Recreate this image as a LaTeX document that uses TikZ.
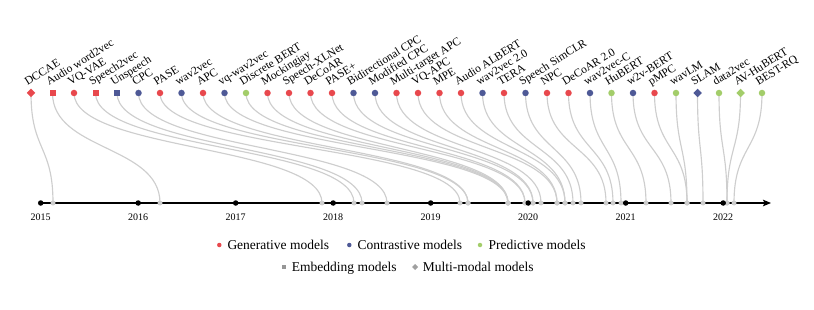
\documentclass[tikz,border=0pt]{standalone}
\usepackage{fontspec}
\setmainfont{Liberation Serif}
\usetikzlibrary{shapes.geometric,arrows.meta,backgrounds,calc}
\definecolor{cred}{RGB}{232,72,77}
\definecolor{cblue}{RGB}{78,89,150}
\definecolor{cgreen}{RGB}{163,205,106}
\definecolor{ccurve}{RGB}{206,206,206}
\definecolor{cgray}{RGB}{150,150,150}
\definecolor{cgrayd}{RGB}{160,160,160}
\begin{document}
\begin{tikzpicture}[x=1pt,y=-1pt,
  mk/.style={inner sep=0pt,outer sep=0pt,draw=none},
  lbl/.style={anchor=base west,rotate=32,inner sep=0pt,font=\fontsize{11.5}{11.5}\selectfont},
  enddot/.style={circle,inner sep=0pt,minimum size=5pt,fill=ccurve},
  yeardot/.style={circle,inner sep=0pt,minimum size=5.5pt,fill=black},
  yearlbl/.style={font=\fontsize{10}{10}\selectfont,inner sep=0pt},
  conn/.style={draw=ccurve,line width=1.15pt},
  axisline/.style={draw=black,line width=1.3pt,-{Stealth[length=8pt,width=6.5pt,inset=1.5pt]}},
  leg/.style={anchor=base west,inner sep=0pt,font=\fontsize{13.5}{13.5}\selectfont}
]
\useasboundingbox (0,0) rectangle (814,310);

% markers, labels, end points
\foreach \i/\x/\e/\s/\c/\ms/\t in {
 1/31/53/diamond/cred/8.5/DCCAE,
 2/52.5/160/rectangle/cred/6/Audio word2vec,
 3/74/322/circle/cred/6.5/VQ-VAE,
 4/95.5/354/rectangle/cred/6/Speech2vec,
 5/117/362/rectangle/cblue/6/Unspeech,
 6/138.5/387/circle/cblue/6.5/CPC,
 7/160/460/circle/cred/6.5/PASE,
 8/181.5/468/circle/cblue/6.5/wav2vec,
 9/203/468/circle/cred/6.5/APC,
 10/224.5/508/circle/cblue/6.5/vq-wav2vec,
 11/246/508/circle/cgreen/6.5/Discrete BERT,
 12/267.5/508/circle/cred/6.5/Mockingjay,
 13/289/508/circle/cred/6.5/Speech-XLNet,
 14/310.5/525/circle/cred/6.5/DeCoAR,
 15/332/525/circle/cred/6.5/PASE+,
 16/353.5/533/circle/cblue/6.5/Bidirectional CPC,
 17/375/533/circle/cblue/6.5/Modified CPC,
 18/396.5/541/circle/cred/6.5/Multi-target APC,
 19/418/557/circle/cred/6.5/VQ-APC,
 20/439.5/557/circle/cred/6.5/MPE,
 21/461/565/circle/cred/6.5/Audio ALBERT,
 22/482.5/565/circle/cblue/6.5/wav2vec 2.0,
 23/504/573/circle/cred/6.5/TERA,
 24/525.5/581/circle/cblue/6.5/Speech SimCLR,
 25/547/606/circle/cred/6.5/NPC,
 26/568.5/613/circle/cred/6.5/DeCoAR 2.0,
 27/590/621/circle/cblue/6.5/wav2vec-C,
 28/611.5/646/circle/cgreen/6.5/HuBERT,
 29/633/671/circle/cblue/6.5/w2v-BERT,
 30/654.5/687/circle/cred/6.5/pMPC,
 31/676/687/circle/cgreen/6.5/wavLM,
 32/697.5/703/diamond/cblue/8.5/SLAM,
 33/719/727/circle/cgreen/6.5/data2vec,
 34/740.5/727/diamond/cgreen/8.5/AV-HuBERT,
 35/762/734/circle/cgreen/6.5/BEST-RQ}{
  \node[mk,shape=\s,fill=\c,minimum size=\ms pt] (m\i) at (\x,93) {};
  \node[lbl] (l\i) at (\x-3.5,86) {\t};
  \node[enddot] (e\i) at (\e,203) {};
}

% years
\foreach \y [count=\k from 0] in {2015,2016,2017,2018,2019,2020,2021,2022}{
  \node[yeardot] (y\y) at ({40.7+97.5*\k},203) {};
  \node[yearlbl] (t\y) at ({40.7+97.5*\k},217) {\y};
}

\coordinate (ax0) at (40.7,203);
\coordinate (ax1) at (771,203);

\begin{scope}[on background layer]
  \foreach \i in {1,...,35}{
    \draw[conn] (m\i.center) .. controls ($(m\i.center)+(0,58)$) and ($(e\i.center)+(0,-58)$) .. (e\i.center);
  }
  \draw[axisline] (ax0) -- (ax1);
\end{scope}

% legend
\node[mk,circle,fill=cred,minimum size=4.5pt] (g1) at (219.3,245) {};
\node[leg] (gt1) at (227.3,249.3) {Generative models};
\node[mk,circle,fill=cblue,minimum size=4.5pt] (g2) at (349.3,245) {};
\node[leg] (gt2) at (357.3,249.3) {Contrastive models};
\node[mk,circle,fill=cgreen,minimum size=4.5pt] (g3) at (480,245) {};
\node[leg] (gt3) at (488.3,249.3) {Predictive models};
\node[mk,rectangle,fill=cgray,minimum size=4.5pt] (g4) at (284,267) {};
\node[leg] (gt4) at (291.7,271.5) {Embedding models};
\node[mk,diamond,fill=cgrayd,minimum size=6pt] (g5) at (415,267) {};
\node[leg] (gt5) at (422.7,271.5) {Multi-modal models};
\end{tikzpicture}
\end{document}
